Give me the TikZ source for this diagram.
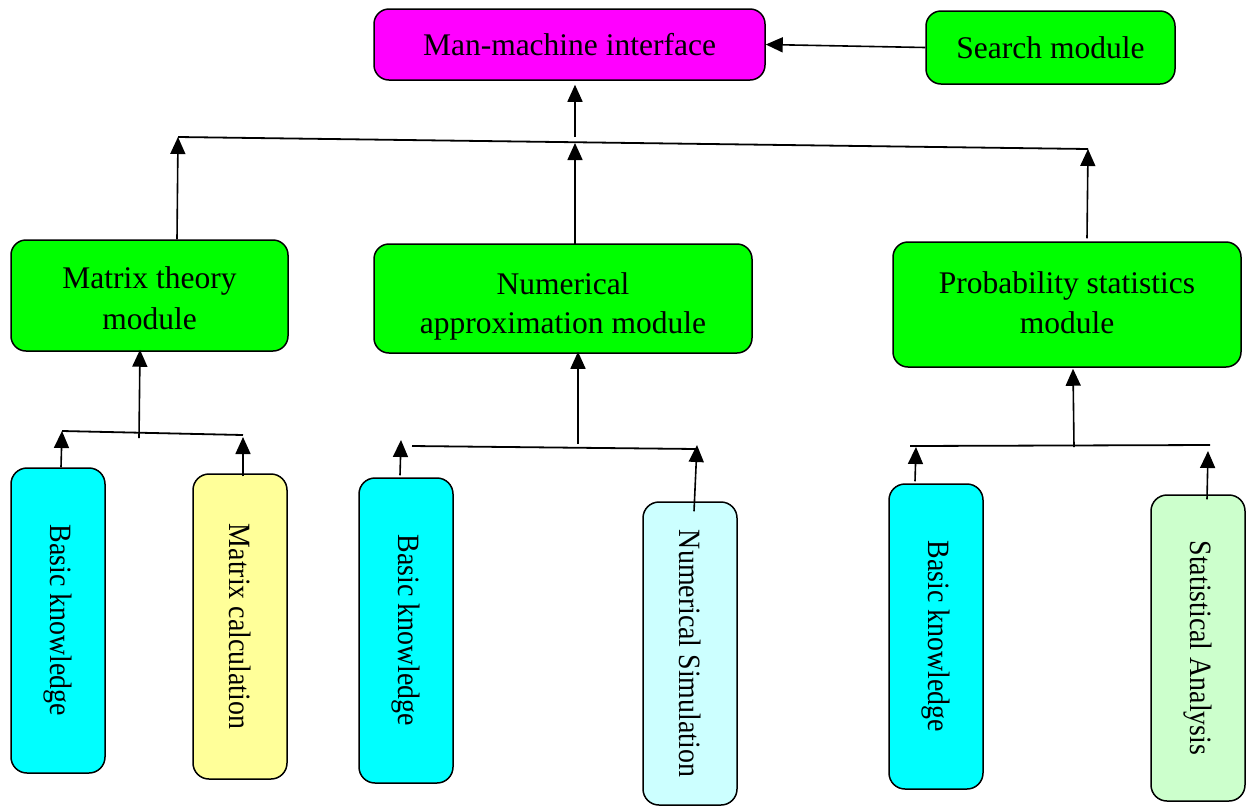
\documentclass[tikz,border=0pt]{standalone}
\usepackage{fontspec}
\setmainfont{Liberation Serif}
\newfontfamily\vfont[FakeStretch=0.9]{Liberation Serif}
\usetikzlibrary{arrows.meta,calc}
\definecolor{cmag}{HTML}{FF00FF}
\definecolor{cgreen}{HTML}{00FF00}
\definecolor{ccyan}{HTML}{00FFFF}
\definecolor{cyellow}{HTML}{FFFF99}
\definecolor{clcyan}{HTML}{CCFFFF}
\definecolor{clgreen}{HTML}{CCFFCC}
\begin{document}
\begin{tikzpicture}[x=1pt,y=-1pt,
  box/.style={draw=black,line width=1.5pt,rounded corners=15pt,inner sep=0pt,align=center,font=\fontsize{31.5}{41}\selectfont},
  vbox/.style={draw=black,line width=1.5pt,rounded corners=16pt,inner sep=0pt,rotate=-90,font=\vfont\fontsize{31}{36}\selectfont},
  arr/.style={line width=1.6pt,-{Triangle[length=17pt,width=15pt]}},
  ln/.style={line width=1.8pt}]
\useasboundingbox (0,0) rectangle (1247,807);
% top
\node[box,fill=cmag,minimum width=391pt,minimum height=71pt] (mmi) at (569.5,44.5) {Man-machine interface};
\node[box,fill=cgreen,minimum width=249pt,minimum height=73pt] (search) at (1050.5,47.5) {Search module};
% modules
\node[box,fill=cgreen,minimum width=277pt,minimum height=111pt,text height=68pt] (mat) at (149.5,295.5) {Matrix theory\\module};
\node[box,fill=cgreen,minimum width=378pt,minimum height=109pt,text height=76pt,font=\fontsize{31.5}{39}\selectfont] (num) at (563,298.5) {Numerical\\approximation module};
\node[box,fill=cgreen,minimum width=348pt,minimum height=125pt,text depth=3pt,font=\fontsize{31.5}{40}\selectfont] (prob) at (1067,304.5) {Probability statistics\\module};
% leaves
\node[vbox,fill=ccyan,minimum width=305pt,minimum height=94pt] (mb) at (58,620.5) {Basic knowledge};
\node[vbox,fill=cyellow,minimum width=305pt,minimum height=94pt] (mc) at (240,626.5) {Matrix calculation};
\node[vbox,fill=ccyan,minimum width=305pt,minimum height=94pt] (nb) at (406,630.5) {Basic knowledge};
\node[vbox,fill=clcyan,minimum width=303pt,minimum height=94pt] (ns) at (690,653.5) {Numerical Simulation};
\node[vbox,fill=ccyan,minimum width=305pt,minimum height=94pt] (pb) at (936,636.5) {Basic knowledge};
\node[vbox,fill=clgreen,minimum width=306pt,minimum height=94pt] (ps) at (1198,648) {Statistical Analysis};
% coordinates
\coordinate (h1) at (178,137);
\coordinate (h2) at (1088,149);
\coordinate (hm) at (575,137);
\coordinate (hn) at (575,143);
\coordinate (m1) at (62,431);
\coordinate (m2) at (243,435);
\coordinate (mj) at (139,438);
\coordinate (n1) at (412,446);
\coordinate (n2) at (697,449);
\coordinate (nj) at (578,444);
\coordinate (p1) at (910,446);
\coordinate (p2) at (1210,445);
\coordinate (pj) at (1074,447);
% top connectors
\draw[arr] (search.west) -- (mmi.east);
\draw[arr] (hm) -- ([yshift=-4pt]mmi.south -| hm);
\draw[ln] (h1) -- (h2);
\draw[arr] (mat.north -| 177,0) -- (h1);
\draw[arr] ([yshift=-1pt]num.north -| 575,0) -- (hn);
\draw[arr] ([yshift=3pt]prob.north -| 1087,0) -- (h2);
% matrix group
\draw[ln] (m1) -- (m2);
\draw[arr] (mj) -- ([yshift=2pt]mat.south -| 140,0);
\draw[arr] (mb.west -| 61,0) -- (m1);
\draw[arr] ([yshift=-3pt]mc.west -| 243,0) -- ([yshift=-2pt]m2);
% numerical group
\draw[ln] (n1) -- (n2);
\draw[arr] (nj) -- ([yshift=2pt]num.south -| 578,0);
\draw[arr] ([yshift=2pt]nb.west -| 400,0) -- (401,440);
\draw[arr] ([yshift=-10pt]ns.west -| 694,0) -- (697,445);
% probability group
\draw[ln] (p1) -- (p2);
\draw[arr] (pj) -- ([yshift=-1pt]prob.south -| 1073,0);
\draw[arr] ([yshift=2pt]pb.west -| 915,0) -- (916,447);
\draw[arr] ([yshift=-5pt]ps.west -| 1207,0) -- (1208,451);
\end{tikzpicture}
\end{document}
